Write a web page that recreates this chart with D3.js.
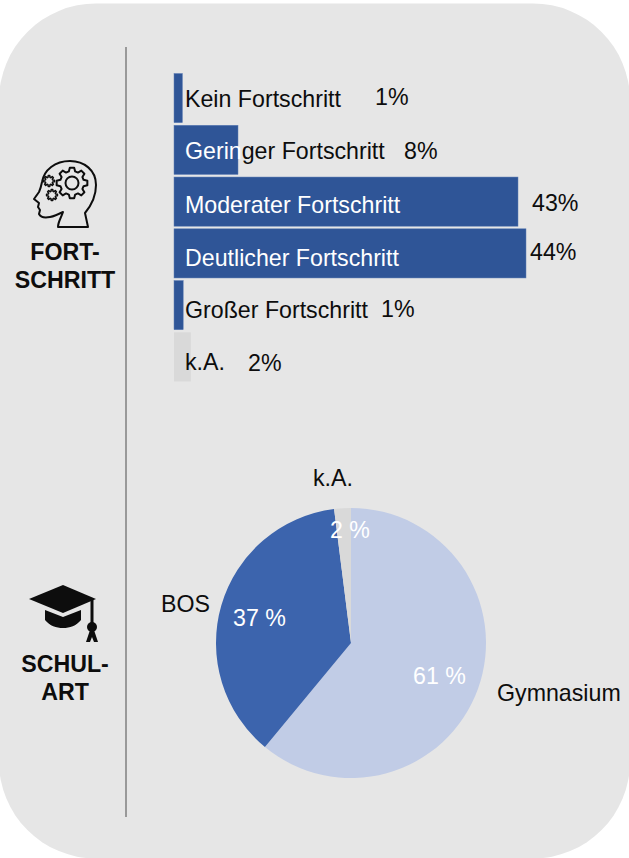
<!DOCTYPE html>
<html>
<head>
<meta charset="utf-8">
<script src="https://cdn.jsdelivr.net/npm/d3@7"></script>
<style>
    html, body { margin: 0; padding: 0; background: #fff; }
    svg { display: block; }
    text { font-family: "Liberation Sans", Arial, sans-serif; }
</style>
</head>
<body>
<svg id="main" width="629" height="858"></svg>
<script>
// Daten
const progressCategories = ['Kein Fortschritt', 'Geringer Fortschritt', 'Moderater Fortschritt', 'Deutlicher Fortschritt', 'Großer Fortschritt', 'k.A.'];
const progressValues = [1.05, 8, 43, 44, 1.15, 2.1];
const progressLabels = ['1%', '8%', '43%', '44%', '1%', '2%'];

const schoolCategories = ['Gymnasium', 'BOS', 'k.A.'];
const schoolValues = [61, 37, 2];
const schoolLabels = ['61 %', '37 %', '2 %'];

// Position der Beschriftungen (im Original von Hand gesetzt)
const progressTextY = [107, 159, 213, 266, 318, 370];
const progressPctX = [375, 404, 532, 530, 381, 248];
const progressPctY = [105, 159, 211, 260, 317, 371];
const schoolNameX = [497, 161, 313];
const schoolNameY = [701, 612, 486];
const schoolPctX = [413, 233, 330];
const schoolPctY = [684, 626, 538];

const BLUE = '#2f5597';
const GREY = '#d9d9d9';
const PIE_COLORS = ['#c1cce6', '#3c64ad', '#d9d9d9'];
const FONT_SIZE = 23.2;

const svg = d3.select('svg#main');

// Hintergrund
svg.append('rect')
    .attr('x', -1).attr('y', 3.5)
    .attr('width', 631).attr('height', 855)
    .attr('rx', 97).attr('ry', 97)
    .attr('fill', '#e6e6e6');

svg.append('line')
    .attr('x1', 126).attr('x2', 126)
    .attr('y1', 47).attr('y2', 817)
    .attr('stroke', '#7f7f7f')
    .attr('stroke-width', 1.5);

// Überschriften links
const headings = [['FORT-', 260], ['SCHRITT', 288], ['SCHUL-', 672], ['ART', 700]];
svg.selectAll('text.heading')
    .data(headings)
    .join('text')
    .attr('class', 'heading')
    .attr('x', 65)
    .attr('y', d => d[1])
    .attr('text-anchor', 'middle')
    .attr('font-size', FONT_SIZE)
    .attr('font-weight', 'bold')
    .attr('fill', '#0d0d0d')
    .text(d => d[0]);

// Balken
const x = d3.scaleLinear().domain([0, 44]).range([174, 526]);
const y = d3.scaleBand().domain(progressCategories).range([73.5, 381.5]).paddingInner(0.05);

svg.selectAll('rect.bar')
    .data(progressCategories)
    .join('rect')
    .attr('class', 'bar')
    .attr('x', x(0))
    .attr('y', d => y(d))
    .attr('width', (d, i) => x(progressValues[i]) - x(0))
    .attr('height', y.bandwidth())
    .attr('fill', (d, i) => i === 5 ? GREY : BLUE)
    .attr('stroke', (d, i) => i === 5 ? 'none' : '#5f7fb5')
    .attr('stroke-width', 0.5);

const barText = svg.selectAll('text.bar-label')
    .data(progressCategories)
    .join('text')
    .attr('class', 'bar-label')
    .attr('x', 185)
    .attr('y', (d, i) => progressTextY[i])
    .attr('font-size', FONT_SIZE)
    .attr('fill', (d, i) => i === 2 || i === 3 ? '#fff' : '#0d0d0d');

barText.each(function(d) {
    const t = d3.select(this);
    if (d === 'Geringer Fortschritt') {
        // Text läuft über das Balkenende hinaus
        t.append('tspan').attr('fill', '#fff').text(d.slice(0, 5));
        t.append('tspan').text(d.slice(5));
    } else {
        t.text(d);
    }
});

svg.selectAll('text.bar-pct')
    .data(progressLabels)
    .join('text')
    .attr('class', 'bar-pct')
    .attr('x', (d, i) => progressPctX[i])
    .attr('y', (d, i) => progressPctY[i])
    .attr('font-size', FONT_SIZE)
    .attr('fill', '#0d0d0d')
    .text(d => d);

// Kreisdiagramm
const pie = d3.pie().sort(null).value(d => d);
const arc = d3.arc().innerRadius(0).outerRadius(135);

svg.append('g')
    .attr('transform', 'translate(351,643)')
    .selectAll('path')
    .data(pie(schoolValues))
    .join('path')
    .attr('d', arc)
    .attr('fill', (d, i) => PIE_COLORS[i]);

svg.selectAll('text.pie-name')
    .data(schoolCategories)
    .join('text')
    .attr('class', 'pie-name')
    .attr('x', (d, i) => schoolNameX[i])
    .attr('y', (d, i) => schoolNameY[i])
    .attr('font-size', FONT_SIZE)
    .attr('fill', '#0d0d0d')
    .text(d => d);

svg.selectAll('text.pie-pct')
    .data(schoolLabels)
    .join('text')
    .attr('class', 'pie-pct')
    .attr('x', (d, i) => schoolPctX[i])
    .attr('y', (d, i) => schoolPctY[i])
    .attr('font-size', FONT_SIZE)
    .attr('fill', '#fff')
    .text(d => d);

// Zahnrad als Pfad
function gearPath(cx, cy, outer, inner, teeth) {
    const pts = [];
    const step = Math.PI * 2 / teeth;
    for (let i = 0; i < teeth; i++) {
        const a = i * step;
        pts.push([a - step * 0.34, inner], [a - step * 0.18, outer], [a + step * 0.18, outer], [a + step * 0.34, inner]);
    }
    return 'M' + pts.map(p => [cx + Math.cos(p[0]) * p[1], cy + Math.sin(p[0]) * p[1]].join(',')).join('L') + 'Z';
}

// Kopf-Symbol
const head = svg.append('g')
    .attr('fill', 'none')
    .attr('stroke', '#0d0d0d')
    .attr('stroke-width', 2)
    .attr('stroke-linejoin', 'round')
    .attr('stroke-linecap', 'round');

head.append('path').attr('d',
    'M58,227 L88,227 L85,213 C90,207 96,197 96,185 C96,170 84,161 70,161 ' +
    'C55,161 44,170 42,182 C41,187 40,190 39,192 L34,199 L39,203 L38,207 L40,210 ' +
    'L39,214 C41,218 45,218 50,217 C55,216 59,214 63,212 C61,218 58,222 58,227');
head.append('path').attr('d', gearPath(72, 183, 15.5, 12, 8));
head.append('circle').attr('cx', 72).attr('cy', 183).attr('r', 6.5);
head.append('path').attr('d', gearPath(49, 181, 5.5, 3.8, 8)).attr('stroke-width', 1.5);
head.append('path').attr('d', gearPath(52, 195, 5.5, 3.8, 8)).attr('stroke-width', 1.5);

// Doktorhut-Symbol
const cap = svg.append('g').attr('fill', '#0d0d0d');
cap.append('path').attr('d', 'M29,599 L63,585 L96,599 L63,613 Z');
cap.append('path').attr('d', 'M45,610 L63,617 L81,610 L81,620 C76,626 70,628 63,628 C56,628 50,626 45,620 Z');
cap.append('rect').attr('x', 90.5).attr('y', 600).attr('width', 3).attr('height', 24);
cap.append('circle').attr('cx', 92).attr('cy', 627).attr('r', 5);
cap.append('path').attr('d', 'M90,630 L94,630 L98,642 L94,642 L92,637 L90,642 L86,642 Z');
</script>
</body>
</html>
